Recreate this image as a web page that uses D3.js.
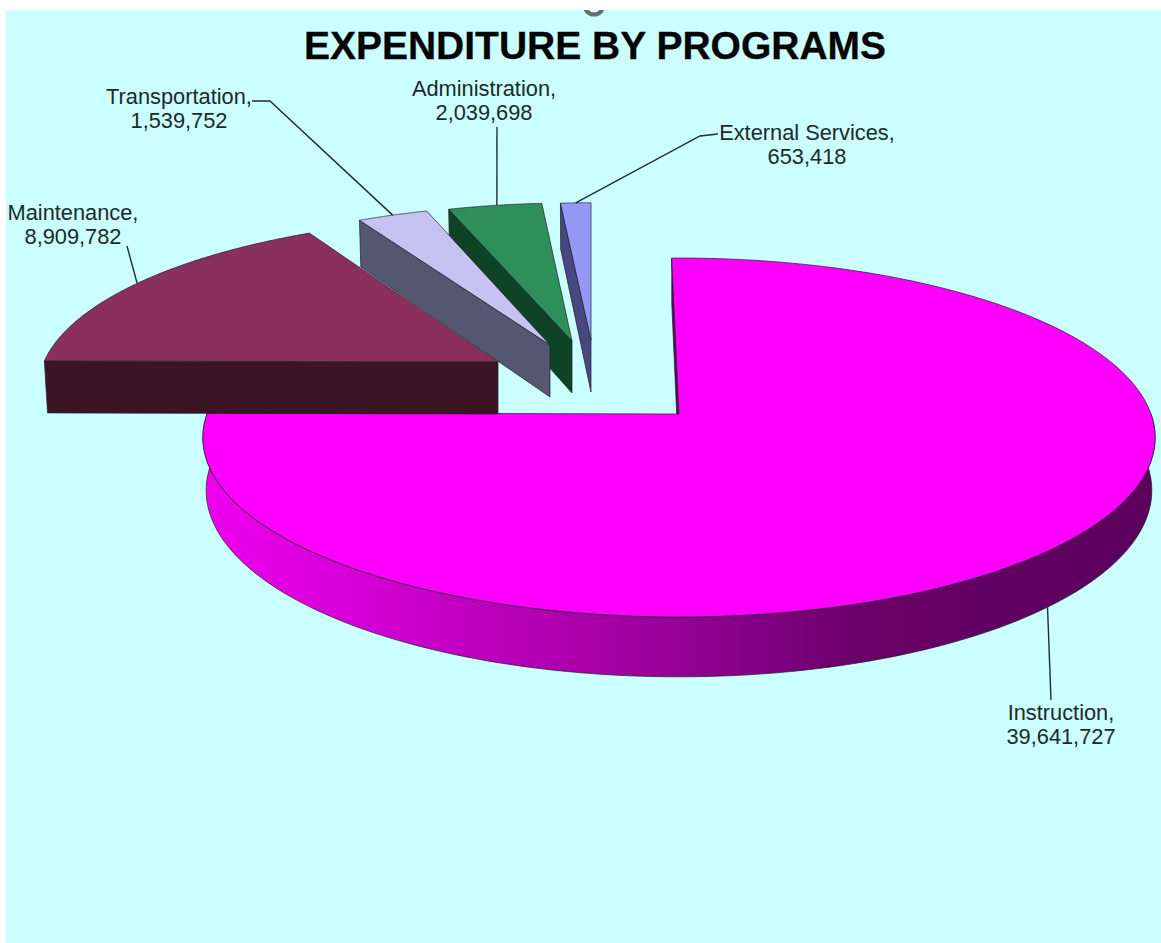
<!DOCTYPE html>
<html>
<head>
<meta charset="utf-8">
<script src="https://cdnjs.cloudflare.com/ajax/libs/d3/7.9.0/d3.min.js"></script>
<style>
html,body{margin:0;padding:0;background:#fff;overflow:hidden}
svg{display:block}
text{font-family:"Liberation Sans",Arial,sans-serif}
</style>
</head>
<body>
<svg id="chart" width="1161" height="943"></svg>
<script>
// ---- data ----
const chartTitle = "EXPENDITURE BY PROGRAMS";
const categories = ["Instruction", "Maintenance", "Transportation", "Administration", "External Services"];
const values = [39641727, 8909782, 1539752, 2039698, 653418];

// ---- styles ----
const topColors = ["#ff00ff", "#8b2f5d", "#c6c2f2", "#2f8f5b", "#9598f4"];
const sideColors = ["url(#instrSide)", "#3c1525", "#555770", "#0f4326", "#47487f"];

// ---- layout: explosion of each slice, from the pie apex ----
const explodeX = [0, -181, -129, -107, -88];
const explodeY = [0, -52, -69, -73, -74];
const sliceScale = [1, 0.93, 0.9, 0.885, 0.88];
const sliceScaleX = [0.998, 0.96, 0.93, 0.93, 0.94];
const sliceShear = [0, 0.0625, 0, 0, 0];
const drawOrder = [0, 1, 4, 3, 2];

// label placement: centre x, first baseline, then the fixed part of each leader
const labelX = [1061, 73, 179, 484, 807];
const labelY = [720, 220, 104, 96, 140];
const leaderElbow = [[[1051, 700]], [[127, 246]], [[252, 101], [270, 101]], [[497, 127]], [[718, 134], [700, 136]]];
const leaderNudgeDeg = [-0.75, 0, 0, 0.3, 0];

// perspective of the pie plane
const cx = 679, cy = 414, B = 473, A = 176.4, k = 0.131, D = 52, lowerShrink = 0.993;

const svg = d3.select("#chart");
const W = +svg.attr("width"), H = +svg.attr("height");
const fmt = d3.format(",");
const deg = Math.PI / 180;

const defs = svg.append("defs");
const grad = defs.append("linearGradient").attr("id", "instrSide")
  .attr("gradientUnits", "userSpaceOnUse")
  .attr("x1", 203).attr("x2", 1157).attr("y1", 0).attr("y2", 0);
[[0, "#ee00ee"], [0.2, "#cf00cf"], [0.45, "#a000a0"], [0.7, "#680068"], [1, "#5c005c"]]
  .forEach(s => grad.append("stop").attr("offset", s[0]).attr("stop-color", s[1]));

// frame, then the grey ring fragment cut off by the white strip above it
svg.append("rect").attr("x", 6).attr("y", 10).attr("width", W - 6).attr("height", H - 10).attr("fill", "#ccffff");
svg.append("circle").attr("cx", 594).attr("cy", 5).attr("r", 9.5)
  .attr("fill", "none").attr("stroke", "#6a6a6a").attr("stroke-width", 4);
svg.append("rect").attr("x", 0).attr("y", 0).attr("width", W).attr("height", 10).attr("fill", "#fff");

svg.append("text").attr("x", 595).attr("y", 58.5).attr("text-anchor", "middle")
  .attr("font-size", 39).attr("font-weight", "bold").attr("fill", "#050505")
  .attr("stroke", "#050505").attr("stroke-width", 0.3).text(chartTitle);

const arcs = d3.pie().sort(null).value(d => d)(values);
const lineGen = d3.line();

function project(i, angle, lower) {
  const u = Math.sin(angle), v = Math.cos(angle), w = 1 + k * v;
  const dy = -sliceScale[i] * A * v / w;
  const dx = sliceScaleX[i] * B * u / w - sliceShear[i] * dy;
  const x = cx + explodeX[i] + (lower ? dx * lowerShrink : dx);
  const y = cy + explodeY[i] + dy;
  return [x, lower ? y + D / w : y];
}
function apex(i, lower) {
  const x = cx + explodeX[i], y = cy + explodeY[i];
  return [x, lower ? y + D : y];
}
function arcPoints(i, a0, a1, lower) {
  return d3.range(0, 121).map(t => project(i, a0 + (a1 - a0) * t / 120, lower));
}

drawOrder.forEach(i => {
  const d = arcs[i];
  // the large slice leans one degree to the left at its start edge
  const a0 = i === 0 ? d.startAngle - 1 * deg : d.startAngle;
  const a1 = d.endAngle;
  const g = svg.append("g").attr("class", "slice");
  const edge = "#1d1d2a";

  // radial wall along the start edge (for Maintenance this is the front block)
  const wall = [apex(i), project(i, a0), project(i, a0, true), apex(i, true)];
  g.append("path").attr("d", lineGen(wall) + "Z")
    .attr("fill", i === 0 ? "#650065" : sideColors[i])
    .attr("stroke", edge).attr("stroke-width", 0.7).attr("stroke-linejoin", "round");

  // rim, only where it faces the viewer
  const r0 = Math.max(a0, 90 * deg), r1 = Math.min(a1, 270 * deg);
  if (r1 > r0) {
    const rim = arcPoints(i, r0, r1).concat(arcPoints(i, r1, r0, true));
    g.append("path").attr("d", lineGen(rim) + "Z")
      .attr("fill", sideColors[i]).attr("stroke", edge).attr("stroke-width", 0.7);
  }

  // top face
  const top = [apex(i)].concat(arcPoints(i, a0, a1));
  g.append("path").attr("d", lineGen(top) + "Z")
    .attr("fill", topColors[i]).attr("stroke", edge).attr("stroke-width", 0.7)
    .attr("stroke-linejoin", "round");
});

// leaders and labels
arcs.forEach((d, i) => {
  const mid = (d.startAngle + d.endAngle) / 2 + leaderNudgeDeg[i] * deg;
  const anchor = project(i, mid, i === 0);
  svg.append("path").attr("d", lineGen([anchor].concat(leaderElbow[i].slice().reverse())))
    .attr("fill", "none").attr("stroke", "#1f2d2d").attr("stroke-width", 1.4);
  const t = svg.append("text").attr("text-anchor", "middle").attr("font-size", 21.8).attr("fill", "#1b2a2a");
  t.append("tspan").attr("x", labelX[i]).attr("y", labelY[i]).text(categories[i] + ",");
  t.append("tspan").attr("x", labelX[i]).attr("y", labelY[i] + 24).text(fmt(values[i]));
});
</script>
</body>
</html>
